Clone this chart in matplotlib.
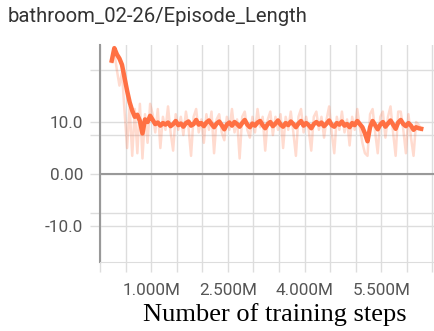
import numpy as np
import matplotlib
matplotlib.use("Agg")
import matplotlib.pyplot as plt
from matplotlib.ticker import FixedLocator, FuncFormatter

# training steps (millions) and episode length
steps_m = [0.23, 0.28, 0.33, 0.38, 0.43, 0.48, 0.53, 0.58, 0.63, 0.68,
           0.73, 0.78, 0.83, 0.88, 0.93, 0.98, 1.03, 1.08, 1.13, 1.18,
           1.23, 1.28, 1.33, 1.38, 1.43, 1.48, 1.53, 1.58, 1.63, 1.68,
           1.73, 1.78, 1.83, 1.88, 1.93, 1.98, 2.03, 2.08, 2.13, 2.18,
           2.23, 2.28, 2.33, 2.38, 2.43, 2.48, 2.53, 2.58, 2.63, 2.68,
           2.73, 2.78, 2.83, 2.88, 2.93, 2.98, 3.03, 3.08, 3.13, 3.18,
           3.23, 3.28, 3.33, 3.38, 3.43, 3.48, 3.53, 3.58, 3.63, 3.68,
           3.73, 3.78, 3.83, 3.88, 3.93, 3.98, 4.03, 4.08, 4.13, 4.18,
           4.23, 4.28, 4.33, 4.38, 4.43, 4.48, 4.53, 4.58, 4.63, 4.68,
           4.73, 4.78, 4.83, 4.88, 4.93, 4.98, 5.03, 5.08, 5.13, 5.18,
           5.23, 5.28, 5.33, 5.38, 5.43, 5.48, 5.53, 5.58, 5.63, 5.68,
           5.73, 5.78, 5.83, 5.88, 5.93, 5.98, 6.03, 6.08, 6.13, 6.18,
           6.23, 6.28]

smoothed = [21.8, 24.2, 23.0, 22.2, 21.0, 18.5, 16.0, 13.8, 12.2, 11.0,
            11.4, 10.2, 7.8, 10.5, 10.0, 11.2, 10.4, 9.6, 9.9, 9.3,
            9.8, 9.5, 9.9, 9.2, 9.6, 10.2, 9.4, 9.7, 9.1, 9.8,
            10.1, 9.3, 9.6, 10.4, 9.5, 9.8, 9.2, 9.9, 10.3, 9.6,
            9.0, 9.7, 10.1, 9.4, 8.6, 9.5, 9.9, 9.3, 10.0, 9.6,
            9.1, 9.8, 10.4, 9.5, 9.0, 9.7, 9.3, 9.9, 10.2, 9.4,
            8.8, 9.6, 10.0, 9.2, 9.7, 10.3, 9.5, 9.1, 9.8, 9.4,
            10.1, 9.6, 9.0, 9.7, 10.2, 9.3, 9.8, 9.4, 8.8, 9.6,
            10.0, 9.5, 9.9, 9.2, 9.7, 10.3, 9.4, 9.1, 9.8, 9.5,
            10.1, 9.3, 9.6, 9.0, 9.8, 9.4, 10.2, 9.6, 9.0, 7.8,
            6.3, 9.0, 10.2, 9.4, 8.6, 9.5, 10.0, 9.1, 9.7, 10.3,
            9.5, 8.7, 9.9, 10.4, 9.6, 9.2, 9.8, 9.3, 8.5, 9.0,
            8.8, 8.7]

raw = [21.5, 23.5, 20.0, 17.0, 19.5, 12.0, 5.0, 13.0, 3.5, 12.5,
       4.0, 13.5, 3.0, 11.5, 6.0, 13.5, 11.5, 8.0, 12.5, 5.0,
       11.0, 8.5, 13.0, 8.0, 4.5, 11.5, 8.5, 11.0, 7.5, 12.0,
       9.0, 3.5, 11.0, 12.5, 8.0, 10.5, 6.0, 11.5, 8.5, 12.0,
       4.0, 10.5, 11.5, 8.0, 6.5, 11.0, 8.5, 12.5, 8.0, 10.5,
       3.0, 11.0, 12.0, 8.5, 7.0, 11.0, 8.0, 12.5, 9.0, 11.0,
       4.5, 10.5, 12.0, 7.5, 11.0, 8.5, 11.5, 5.0, 11.0, 8.5,
       12.0, 8.0, 3.5, 11.0, 12.5, 8.0, 11.0, 8.5, 4.5, 11.0,
       12.0, 8.5, 11.0, 7.0, 10.5, 13.0, 8.0, 4.0, 11.0, 8.5,
       12.0, 8.0, 10.5, 5.5, 11.0, 8.5, 12.5, 9.0, 6.0, 4.0,
       3.5, 11.5, 12.5, 8.0, 4.0, 11.0, 12.0, 7.0, 11.0, 13.0,
       8.0, 3.5, 12.0, 12.0, 8.5, 4.0, 11.5, 7.0, 3.5, 10.0,
       9.5, 8.5]

steps = np.array(steps_m) * 1e6

plt.rcParams['font.family'] = ['Roboto', 'DejaVu Sans']

fig = plt.figure(figsize=(4.34, 3.31), dpi=100)
ax = fig.add_axes([100 / 434, 1 - 262 / 331, 334 / 434, 217 / 331])

ax.plot(steps, raw, color='#ff7043', alpha=0.25, lw=1.8)
ax.plot(steps, smoothed, color='#ff7043', lw=3.2)

ax.set_xlim(0, 6.53e6)
ax.set_ylim(-16.9, 24.8)

# grid / ticks, tensorboard style
ax.xaxis.set_major_locator(FixedLocator([1.0e6, 2.5e6, 4.0e6, 5.5e6]))
ax.xaxis.set_minor_locator(FixedLocator([0, 0.5e6, 1.5e6, 2.0e6, 3.0e6, 3.5e6,
                                         4.5e6, 5.0e6, 6.0e6, 6.5e6]))
ax.xaxis.set_major_formatter(FuncFormatter(lambda v, p: '%.3fM' % (v / 1e6)))
ax.yaxis.set_major_locator(FixedLocator([-10, 0, 10]))
ax.yaxis.set_minor_locator(FixedLocator([-7.5, 7.5, 20]))
ax.yaxis.set_major_formatter(FuncFormatter(lambda v, p: {10: '10.0', 0: '0.00', -10: '-10.0'}[int(v)]))

ax.grid(True, which='both', color='#dddddd', lw=1.0)
ax.axhline(0, color='#999999', lw=1.5)
ax.set_axisbelow(True)

ax.tick_params(which='both', direction='out', color='#dddddd', width=1.0,
               length=7, labelcolor='#555555', labelsize=12.3)
ax.tick_params(axis='y', pad=5)
ax.tick_params(axis='x', pad=8)

for s in ['top', 'right']:
    ax.spines[s].set_visible(False)
ax.spines['left'].set_color('#999999')
ax.spines['left'].set_linewidth(1.5)
ax.spines['bottom'].set_color('#dddddd')

fig.text(8 / 434, 1 - 17 / 331, 'bathroom_02-26/Episode_Length', fontsize=14.6,
         color='#333333', va='center', ha='left')
fig.text(275 / 434, 1 - 315 / 331, 'Number of training steps', fontsize=19,
         family='Liberation Serif', color='black', ha='center', va='center')

fig.savefig('out.png', dpi=100)
